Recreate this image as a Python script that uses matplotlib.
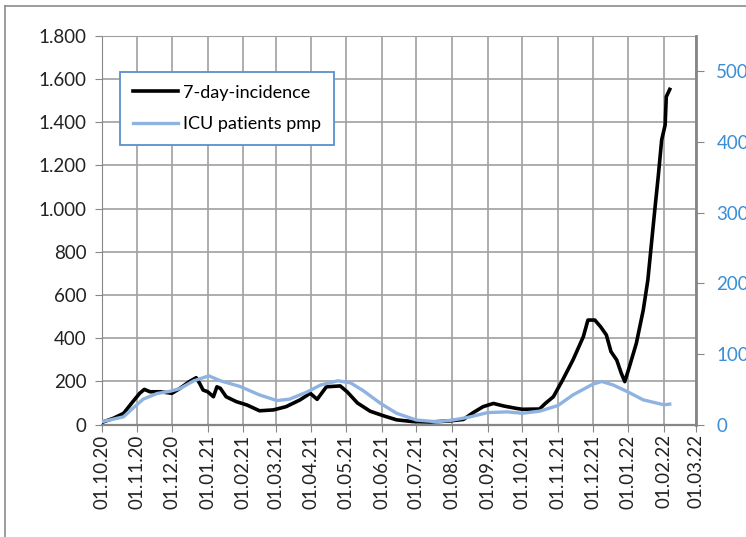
import matplotlib

matplotlib.use("Agg")
import matplotlib.pyplot as plt
import matplotlib.dates as mdates
import pandas as pd
from matplotlib.lines import Line2D

plt.rcParams["font.family"] = ["Lato", "DejaVu Sans"]

# 7-day incidence (left axis)
inc_dates = [
    "2020-10-01", "2020-10-11", "2020-10-20", "2020-10-28", "2020-11-03", "2020-11-07",
    "2020-11-12", "2020-11-21", "2020-12-01", "2020-12-08", "2020-12-16", "2020-12-22",
    "2020-12-25", "2020-12-28", "2021-01-01", "2021-01-06", "2021-01-09", "2021-01-12",
    "2021-01-17", "2021-01-26", "2021-02-04", "2021-02-15", "2021-02-27", "2021-03-10",
    "2021-03-22", "2021-03-31", "2021-04-06", "2021-04-14", "2021-04-26", "2021-05-02",
    "2021-05-11", "2021-05-22", "2021-06-03", "2021-06-14", "2021-06-28", "2021-07-13",
    "2021-07-30", "2021-08-11", "2021-08-19", "2021-08-28", "2021-09-06", "2021-09-15",
    "2021-09-26", "2021-10-01", "2021-10-16", "2021-10-21", "2021-10-28", "2021-11-05",
    "2021-11-14", "2021-11-23", "2021-11-27", "2021-12-03", "2021-12-08", "2021-12-13",
    "2021-12-17", "2021-12-22", "2021-12-26", "2021-12-29", "2022-01-02", "2022-01-08",
    "2022-01-14", "2022-01-18", "2022-01-24", "2022-01-27", "2022-01-30", "2022-02-02",
    "2022-02-03", "2022-02-06",
]
incidence = [
    10, 29, 52, 106, 145, 163,
    152, 152, 145, 168, 199, 217,
    191, 160, 152, 129, 175, 168,
    129, 106, 91, 64, 68, 83,
    114, 145, 117, 175, 179, 152,
    100, 62, 40, 22, 14, 12,
    17, 24, 54, 83, 98, 86,
    75, 71, 72, 98, 129, 206,
    299, 407, 484, 484, 453, 415,
    338, 299, 237, 199, 268, 376,
    530, 669, 993, 1148, 1318, 1387,
    1518, 1552,
]

# ICU patients per million (right axis)
icu_dates = [
    "2020-10-01", "2020-10-20", "2020-10-28", "2020-11-06", "2020-11-18", "2020-11-29",
    "2020-12-08", "2020-12-20", "2021-01-02", "2021-01-12", "2021-01-29", "2021-02-15",
    "2021-03-02", "2021-03-13", "2021-03-28", "2021-04-09", "2021-04-24", "2021-05-05",
    "2021-05-16", "2021-05-31", "2021-06-14", "2021-07-01", "2021-07-19", "2021-08-02",
    "2021-08-17", "2021-09-01", "2021-09-18", "2021-10-01", "2021-10-16", "2021-11-01",
    "2021-11-14", "2021-12-01", "2021-12-09", "2021-12-19", "2022-01-01", "2022-01-14",
    "2022-02-01", "2022-02-06",
]
icu = [
    4, 11, 23, 36, 44, 47,
    51, 62, 69, 62, 54, 42,
    34, 36, 46, 56, 62, 59,
    48, 30, 16, 6.5, 4, 6.5,
    11, 17, 18, 16, 19, 27,
    42, 57, 61, 56, 46, 35,
    28, 29,
]

inc_x = pd.to_datetime(inc_dates)
icu_x = pd.to_datetime(icu_dates)

GRID = "#a0a0a0"
AXIS = "#868686"
BLUE_TXT = "#3a8ed6"

fig = plt.figure(figsize=(7.46, 5.37), dpi=100)
ax = fig.add_axes([0.1363, 0.2093, 0.797, 0.724])
ax2 = ax.twinx()

ax.plot(inc_x, incidence, color="black", lw=2.6, zorder=3, label="7-day-incidence")
ax2.plot(icu_x, icu, color="#8fb3e0", lw=2.4, zorder=2, label="ICU patients pmp")

ax.set_xlim(pd.Timestamp("2020-10-01"), pd.Timestamp("2022-03-01"))
ax.set_ylim(0, 1800)
ax2.set_ylim(0, 550)
ax.set_yticks(range(0, 1801, 200))
ax.set_yticklabels([f"{v:,}".replace(",", ".") for v in range(0, 1801, 200)])
ax2.set_yticks(range(0, 501, 100))

ax.xaxis.set_major_locator(mdates.MonthLocator())
ax.xaxis.set_major_formatter(mdates.DateFormatter("%d.%m.%y"))
for lab in ax.get_xticklabels():
    lab.set_rotation(90)

ax.grid(True, color=GRID, lw=1.2)
ax.set_axisbelow(True)
ax.spines["top"].set_color(GRID)
ax2.spines["top"].set_visible(False)
ax.spines["left"].set_color(AXIS)
ax.spines["bottom"].set_color(AXIS)
ax.spines["bottom"].set_linewidth(1.6)
ax.spines["right"].set_visible(False)
ax2.spines["left"].set_visible(False)
ax2.spines["bottom"].set_visible(False)
ax2.spines["right"].set_color(AXIS)
ax2.spines["right"].set_linewidth(2)

ax.tick_params(axis="y", length=5, color=AXIS, pad=6, labelsize=13.5, labelcolor="#222222")
ax.tick_params(axis="x", length=5, color=AXIS, pad=2, labelsize=13.5, labelcolor="#222222")
ax2.tick_params(axis="y", length=5.5, color=AXIS, pad=9, labelsize=13.5, labelcolor=BLUE_TXT)

h1, l1 = ax.get_legend_handles_labels()
h2, l2 = ax2.get_legend_handles_labels()
leg = ax2.legend(h1 + h2, l1 + l2, loc="upper left", bbox_to_anchor=(0.031, 0.907),
                 borderaxespad=0, fancybox=False, framealpha=1, edgecolor="#5b8fd0",
                 fontsize=13, handlelength=2.5, labelspacing=0.85, borderpad=0.7,
                 handletextpad=0.3)
leg.get_frame().set_linewidth(1.3)

# outer chart frame (cropped screenshot)
fig.add_artist(Line2D([5 / 746, 5 / 746], [0, 1 - 6 / 537], color="#8c8c8c", lw=1.2))
fig.add_artist(Line2D([5 / 746, 1], [1 - 6 / 537, 1 - 6 / 537], color="#8c8c8c", lw=1.2))

fig.savefig("out.png", dpi=100)
